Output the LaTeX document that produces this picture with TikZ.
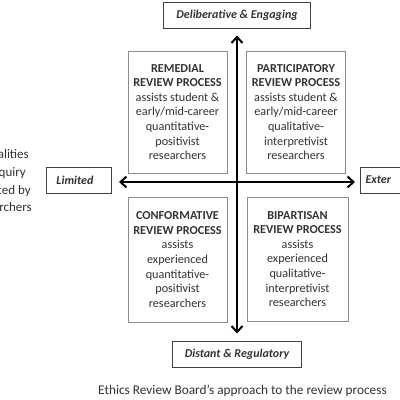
\documentclass[tikz,border=0pt]{standalone}
\usepackage{fontspec}
\setmainfont{Carlito}
\usetikzlibrary{arrows.meta}
\definecolor{txt}{HTML}{333333}
\definecolor{qborder}{HTML}{8C8C8C}
\definecolor{lborder}{HTML}{404040}
\begin{document}
\begin{tikzpicture}[x=1pt,y=-1pt,
 quad/.style={draw=qborder, line width=0.9pt, text=txt, align=center, font=\fontsize{12.2}{14.6}\selectfont, inner sep=0pt, minimum width=99pt},
 axlabel/.style={draw=lborder, line width=1pt, text=txt, font=\fontsize{12}{14}\selectfont\bfseries\itshape, minimum height=26pt, inner sep=0pt},
 axis/.style={line width=2pt, {Straight Barb[length=6pt,width=11pt]}-{Straight Barb[length=6pt,width=11pt]}},
 side/.style={text=txt, font=\fontsize{13}{16}\selectfont, anchor=base east, inner sep=0pt}]
\useasboundingbox (0,0) rectangle (400,400);
\clip (0,0) rectangle (400,400);
\fill[white] (0,0) rectangle (400,400);
\node[axlabel, minimum width=147pt] (top) at (237,15) {Deliberative \& Engaging};
\node[axlabel, minimum width=129pt] (bot) at (237,354) {Distant \& Regulatory};
\node[axlabel, minimum width=65pt, text width=55pt, align=left, inner xsep=5pt, anchor=west] (lim) at (46,180) {\hspace*{5pt}Limited};
\node[axlabel, anchor=west, minimum width=60pt, text width=50pt, align=left, inner xsep=5pt] (ext) at (360,180) {Exter};
\draw[axis, shorten <=7pt, shorten >=7pt] (top.south) -- (bot.north);
\draw[axis, shorten <=7pt, shorten >=5pt] ([yshift=-2pt]lim.east) -- ([yshift=-2pt]ext.west);
\node[quad, minimum height=122pt] (tl) at (177.5,112) {\textbf{REMEDIAL}\\\textbf{REVIEW PROCESS}\\assists student \&\\early/mid-career\\quantitative-\\positivist\\researchers};
\node[quad, minimum height=122pt] (tr) at (296,112) {\textbf{PARTICIPATORY}\\\textbf{REVIEW PROCESS}\\assists student \&\\early/mid-career\\qualitative-\\interpretivist\\researchers};
\node[quad, minimum height=125pt] (bl) at (177.5,259.5) {\textbf{CONFORMATIVE}\\\textbf{REVIEW PROCESS}\\assists\\experienced\\quantitative-\\positivist\\researchers};
\node[quad, minimum height=124pt, minimum width=101pt] (br) at (297.5,259) {\textbf{BIPARTISAN}\\\textbf{REVIEW PROCESS}\\assists\\experienced\\qualitative-\\interpretivist\\researchers};
\node[side] (s1) at (29,158) {alities};
\node[side] (s2) at (26,176) {quiry};
\node[side] (s3) at (31,194) {ced by};
\node[side] (s4) at (32,211) {rchers};
\node[text=txt, font=\fontsize{13.3}{16}\selectfont, inner sep=0pt] (cap) at (242.5,391) {Ethics Review Board’s approach to the review process};
\end{tikzpicture}
\end{document}
